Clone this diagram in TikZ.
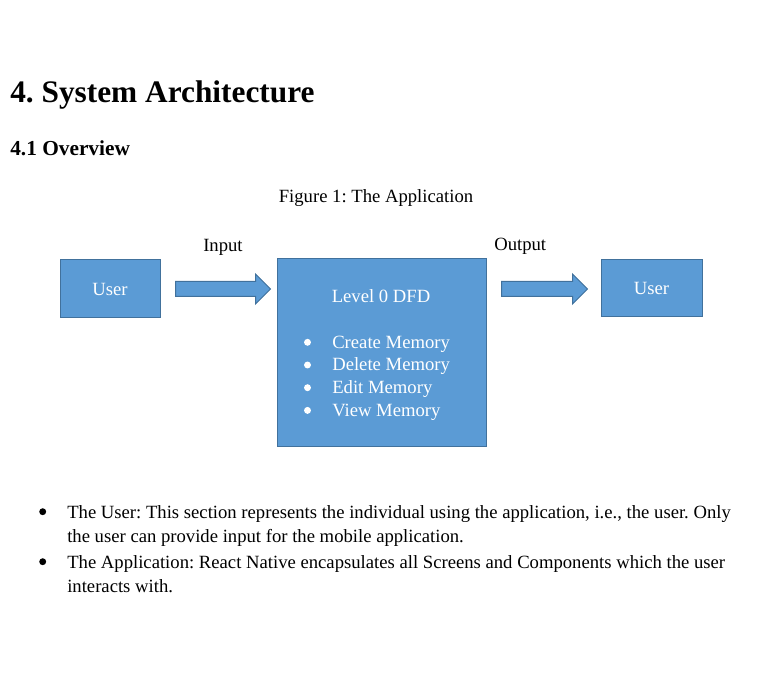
\documentclass[tikz,border=0pt]{standalone}
\usepackage{fontspec}
\setmainfont{Liberation Serif}
\usetikzlibrary{positioning,calc}
\definecolor{boxblue}{HTML}{5B9BD5}
\definecolor{boxline}{HTML}{41719C}

\begin{document}
\frenchspacing
\begin{tikzpicture}[x=0.75pt, y=-0.75pt, font=\fontsize{14}{17}\selectfont,
  every node/.style={inner sep=0pt},
  dfdbox/.style={draw=boxline, fill=boxblue, line width=0.75pt, text=white},
  blockarrow/.style={draw=boxline, fill=boxblue, line width=0.75pt, line join=miter},
  dot/.style={circle, fill=#1, minimum size=5.2pt}, dot/.default=black,
  txt/.style={anchor=base west}, ctxt/.style={anchor=base}]
\useasboundingbox (0,0) rectangle (780,680);

% headings
\node[txt, font=\bfseries\fontsize{23.5}{28}\selectfont] (title) at (10,103) {4. System Architecture};
\node[txt, font=\bfseries\fontsize{16}{19}\selectfont] (overview) at (10,156) {4.1 Overview};
\node[ctxt] (caption) at (376,203) {Figure 1: The Application};

% boxes
\node[dfdbox, minimum width=75pt, minimum height=43.5pt] (user1) at (110,289) {User};
\node[dfdbox, minimum width=156.75pt, minimum height=140.25pt] (dfd) at (381.5,352.5) {};
\node[dfdbox, minimum width=75.75pt, minimum height=42.75pt] (user2) at (651.5,288.5) {User};

\node[ctxt, text=white] (dfdtitle) at (381,303) {Level 0 DFD};
\foreach \t [count=\i] in {Create Memory, Delete Memory, Edit Memory, View Memory} {
  \node[dot=white] (dot\i) at (307.5,342.3+22.7*\i-22.7) {};
  \node[txt, text=white] (item\i) at (332,348+22.7*\i-22.7) {\t};
}

% flows
\node[txt] (inlbl) at (203,252) {Input};
\node[txt] (outlbl) at (494,251) {Output};
\draw[blockarrow] ($(user1.east)+(15,-7.5)$) -- ++(80,0) -- ++(0,-7.5) -- ++(15,15)
  -- ++(-15,15) -- ++(0,-7.5) -- ++(-80,0) -- cycle;
\draw[blockarrow] ($(dfd.east |- user1.east)+(15,-7.5)$) -- ++(71,0) -- ++(0,-7.5) -- ++(15,15)
  -- ++(-15,15) -- ++(0,-7.5) -- ++(-71,0) -- cycle;

% notes
\node[dot] (bul1) at (42.7,511.7) {};
\node[txt] (note1a) at (67,518) {The User: This section represents the individual using the application, i.e., the user. Only};
\node[txt] (note1b) at (67,542) {the user can provide input for the mobile application.};
\node[dot] (bul2) at (42.7,561.7) {};
\node[txt] (note2a) at (67,568) {The Application: React Native encapsulates all Screens and Components which the user};
\node[txt] (note2b) at (67,592) {interacts with.};
\end{tikzpicture}
\end{document}
